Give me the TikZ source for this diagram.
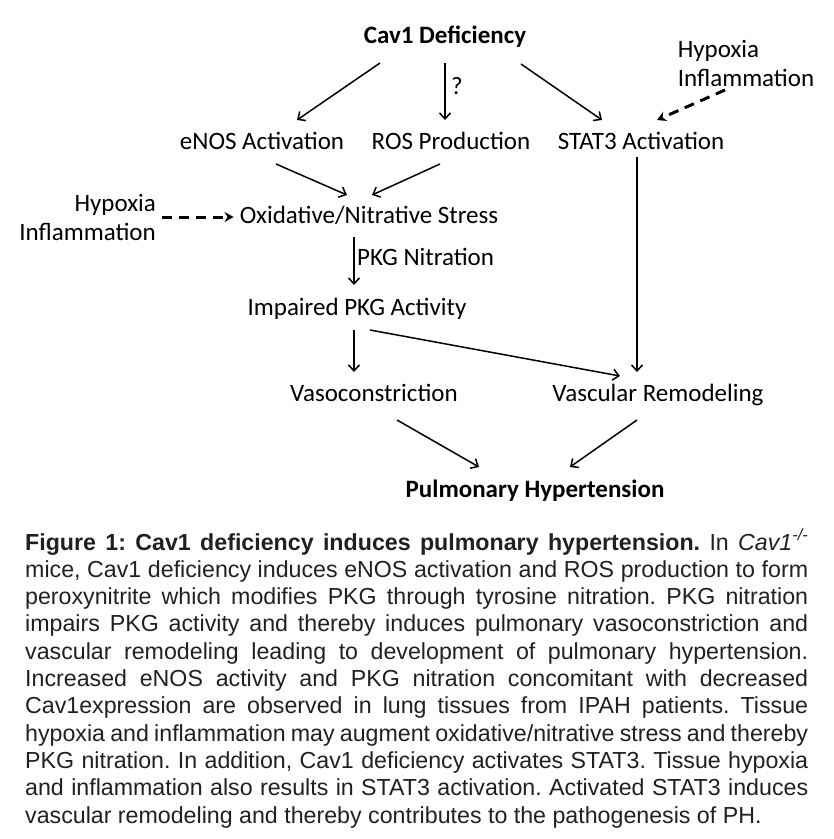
\documentclass[tikz,border=0pt]{standalone}
\usepackage{fontspec}
\setmainfont{Liberation Sans}
\newfontfamily\calfont{Carlito}
\usetikzlibrary{arrows.meta,calc}
\definecolor{captext}{HTML}{231F20}

\begin{document}
\begin{tikzpicture}[x=1pt,y=-1pt,
  box/.style={font=\calfont\fontsize{25}{29}\selectfont, inner sep=0pt, text height=17pt, text depth=5pt},
  boldbox/.style={box, font=\calfont\bfseries\fontsize{25}{29}\selectfont},
  sidebox/.style={font=\calfont\fontsize{25}{29}\selectfont, inner sep=0pt},
  arr/.style={-{Straight Barb[length=6pt,width=11pt]}, line width=1.5pt},
  dasharr/.style={-{Stealth[length=9pt,width=10pt]}, line width=3pt, dash pattern=on 10pt off 7pt}]
\useasboundingbox (0,0) rectangle (834,839);

\node[boldbox] (cav) at (445,37) {Cav1 Deficiency};
\node[box] (enos) at (262,143) {eNOS Activation};
\node[box] (ros) at (451,143) {ROS Production};
\node[box] (stat) at (641,143) {STAT3 Activation};
\node[sidebox, align=left] (hypR) at (746,63) {Hypoxia\\Inflammation};
\node[sidebox, align=right, anchor=east] (hypL) at (156,217) {Hypoxia\\Inflammation};
\node[box] (oxid) at (369,217) {Oxidative/Nitrative Stress};
\node[box] (imp) at (357,309) {Impaired PKG Activity};
\node[box] (vaso) at (374,395) {Vasoconstriction};
\node[box] (vr) at (658,395) {Vascular Remodeling};
\node[boldbox] (ph) at (535,491) {Pulmonary Hypertension};
\node[box, anchor=west] (q) at (451,88) {?};
\node[box, anchor=west] (nitr) at (357,259) {PKG Nitration};

% edges
\path[arr] ($(cav)+(-65,26)$) edge ($(enos)+(35,-23)$);
\path[arr] ($(cav)+(0,26)$) edge ($(ros)+(-6,-23)$);
\path[arr] ($(cav)+(76,27)$) edge ($(stat)+(-39,-23)$);
\path[dasharr] ($(hypR)+(-21,27)$) edge ($(stat)+(16,-23)$);
\path[arr] ($(enos)+(14,21)$) edge ($(oxid)+(-22,-22)$);
\path[arr] ($(ros)+(-11,21)$) edge ($(oxid)+(3,-22)$);
\path[dasharr] ($(hypL.east)+(6,0)$) edge ($(oxid.west)+(-6,0)$);
\path[arr] ($(oxid)+(-15,20)$) edge ($(imp)+(-3,-24)$);
\path[arr] ($(imp)+(-3,21)$) edge ($(vaso)+(-20,-23)$);
\path[arr] ($(imp)+(13,21)$) edge ($(vr)+(-38,-19)$);
\path[arr] ($(stat)+(-4,14)$) edge ($(vr)+(-21,-23)$);
\path[arr] ($(vaso)+(23,25)$) edge ($(ph)+(-56,-24)$);
\path[arr] ($(vr)+(-21,25)$) edge ($(ph)+(35,-24)$);

% caption
\node[anchor=north west, inner sep=0pt, text width=783pt, align=justify, text=captext,
  font=\fontsize{23.2}{27.3}\selectfont] (cap) at (25,529)
{\frenchspacing\hyphenpenalty=10000\relax\exhyphenpenalty=10000\relax
\textbf{Figure 1: Cav1 deficiency induces pulmonary hypertension.} In \textit{Cav1}\textsuperscript{\textit{-/-}}\linebreak
mice, Cav1 deficiency induces eNOS activation and ROS production to form\linebreak
peroxynitrite which modifies PKG through tyrosine nitration. PKG nitration\linebreak
impairs PKG activity and thereby induces pulmonary vasoconstriction and\linebreak
vascular remodeling leading to development of pulmonary hypertension.\linebreak
Increased eNOS activity and PKG nitration concomitant with decreased\linebreak
Cav1expression are observed in lung tissues from IPAH patients. Tissue\linebreak
hypoxia and inflammation may augment oxidative/nitrative stress and thereby\linebreak
PKG nitration. In addition, Cav1 deficiency activates STAT3. Tissue hypoxia\linebreak
and inflammation also results in STAT3 activation. Activated STAT3 induces\linebreak
vascular remodeling and thereby contributes to the pathogenesis of PH.};
\end{tikzpicture}
\end{document}
